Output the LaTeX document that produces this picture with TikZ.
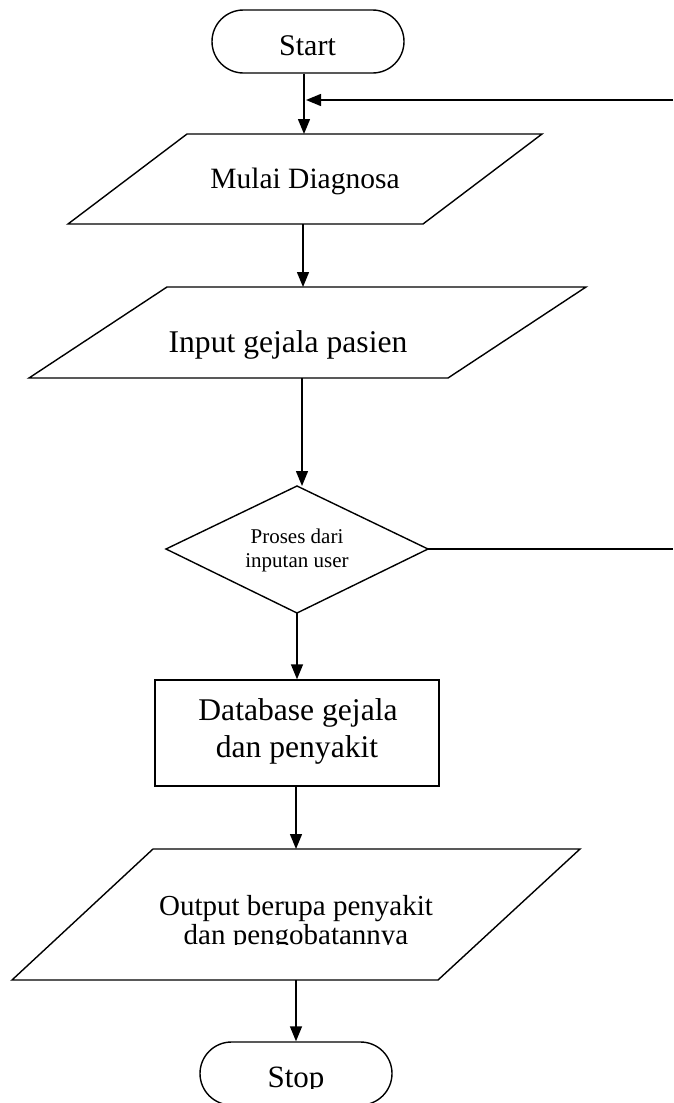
\documentclass[tikz,border=0pt]{standalone}
\usepackage{fontspec}
\setmainfont{Liberation Serif}
\usetikzlibrary{arrows.meta}
\begin{document}
\begin{tikzpicture}[x=1pt,y=-1pt,
  line width=1.4pt,
  box/.style={draw,line width=1.4pt,line join=miter},
  terminal/.style={draw,line width=1.4pt,rounded corners=31.5pt,minimum width=192pt,minimum height=63pt,inner sep=0pt},
  conn/.style={line width=1.4pt},
  arr/.style={conn,-{Triangle[length=15pt,width=12pt]}},
  lbl/.style={inner sep=0pt,anchor=base},
  fS/.style={font=\fontsize{30}{30}\selectfont},
  fO/.style={font=\fontsize{29}{29}\selectfont},
  fL/.style={font=\fontsize{31.6}{31.6}\selectfont},
  fD/.style={font=\fontsize{21}{21}\selectfont}]
\useasboundingbox (0,0) rectangle (673,1103);

% Start
\node[terminal] (start) at (308,41.5) {};
\node[lbl,fS] (starttxt) at (307.5,55) {Start};

% Mulai Diagnosa
\draw[box] (187,134) -- (542,134) -- (423,224) -- (68,224) -- cycle;
\node[lbl,font=\fontsize{29.5}{29.5}\selectfont] (mulai) at (305,188) {Mulai Diagnosa};
\coordinate (mulaiT) at (304,134);
\coordinate (mulaiB) at (303,224);

% Input gejala pasien
\draw[box] (167,287) -- (586,287) -- (448,378) -- (29,378) -- cycle;
\node[lbl,fL] (input) at (288,352) {Input gejala pasien};
\coordinate (inputT) at (303,287);
\coordinate (inputB) at (302,378);

% Decision
\draw[box] (297,486) -- (428,549) -- (297,613) -- (166,549) -- cycle;
\node[lbl,fD] (dec1) at (297,543) {Proses dari};
\node[lbl,fD] (dec2) at (297,567) {inputan user};
\coordinate (decT) at (302,486);
\coordinate (decR) at (428,549);
\coordinate (decB) at (297,613);

% Database
\node[box,minimum width=284pt,minimum height=106pt,inner sep=0pt] (db) at (297,733) {};
\node[lbl,fL] (db1) at (298,720) {Database gejala};
\node[lbl,fL] (db2) at (297,757) {dan penyakit};

% Output
\draw[box] (153,849) -- (580,849) -- (438,980) -- (12,980) -- cycle;
\node[lbl,fO] (out1) at (296,915) {Output berupa penyakit};
\begin{scope}
  \clip (0,0) rectangle (673,944.5);
  \node[lbl,fO] (out2) at (296,944) {dan pengobatannya};
\end{scope}
\coordinate (outT) at (296,849);
\coordinate (outB) at (296,980);

% Stop
\node[terminal] (stop) at (296,1073.5) {};
\begin{scope}
  \clip (0,0) rectangle (673,1088);
  \node[lbl,font=\fontsize{31}{31}\selectfont] (stoptxt) at (296,1087) {Stop};
\end{scope}

% right-hand loop (leaves the picture)
\coordinate (fbR) at (673,100);
\coordinate (fbL) at (306,100);
\coordinate (decRout) at (673,549);

% connectors
\draw[arr] (start.south -| mulaiT) -- (mulaiT);
\draw[arr] (fbR) -- (fbL);
\draw[arr] (mulaiB) -- (inputT);
\draw[arr] (inputB) -- (decT);
\draw[conn] (decR) -- (decRout);
\draw[arr] (decB) -- (db.north -| decB);
\draw[arr] (db.south -| outT) -- (outT);
\draw[arr] (outB) -- (stop.north -| outB);
\end{tikzpicture}
\end{document}
